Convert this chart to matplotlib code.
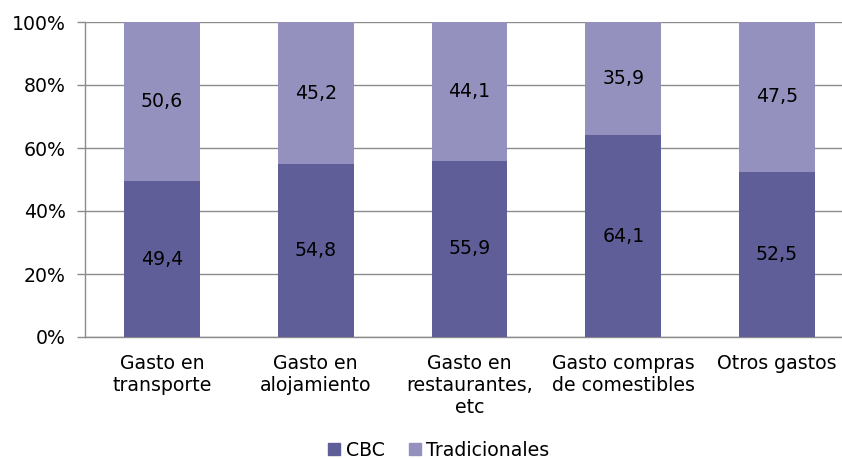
import matplotlib
matplotlib.use("Agg")
import matplotlib.pyplot as plt
from matplotlib.lines import Line2D

categories = ["Gasto en\ntransporte", "Gasto en\nalojamiento", "Gasto en\nrestaurantes,\netc",
              "Gasto compras\nde comestibles", "Otros gastos"]
cbc = [49.4, 54.8, 55.9, 64.1, 52.5]
tradicionales = [50.6, 45.2, 44.1, 35.9, 47.5]
yticks = [0, 20, 40, 60, 80, 100]
ytick_labels = ["0%", "20%", "40%", "60%", "80%", "100%"]
series_names = ["CBC", "Tradicionales"]

c_dark = "#5F5E99"
c_light = "#9591BE"
grid_c = "#8C8C8C"

plt.rcParams['font.family'] = ['DejaVu Sans']
fig = plt.figure(figsize=(8.42, 4.59), dpi=100)
W, H = 842, 459
left, right, top, bottom = 85, 854, 22, 337
ax = fig.add_axes([left / W, 1 - bottom / H, (right - left) / W, (bottom - top) / H])

x = list(range(len(categories)))
ax.bar(x, cbc, width=0.494, color=c_dark, zorder=3)
ax.bar(x, tradicionales, width=0.494, bottom=cbc, color=c_light, zorder=3)

fs = 13.6
for i in x:
    ax.text(i, cbc[i] / 2, f"{cbc[i]:.1f}".replace(".", ","), ha="center", va="center",
            fontsize=fs, color="black", zorder=4)
    ax.text(i, cbc[i] + tradicionales[i] / 2, f"{tradicionales[i]:.1f}".replace(".", ","),
            ha="center", va="center", fontsize=fs, color="black", zorder=4)

ax.set_xlim(-0.5, 4.5)
ax.set_ylim(0, 100)
ax.set_yticks(yticks)
ax.set_yticklabels(ytick_labels, fontsize=fs)
ax.set_xticks(x)
ax.set_xticklabels(categories, fontsize=fs, linespacing=1.2)
ax.tick_params(axis="x", length=0, pad=12)
ax.tick_params(axis="y", length=6, width=1, color=grid_c, pad=8)
ax.yaxis.grid(True, color=grid_c, linewidth=1)
ax.set_axisbelow(True)
for s in ["top", "right"]:
    ax.spines[s].set_visible(False)
ax.spines["left"].set_color(grid_c)
ax.spines["bottom"].set_color(grid_c)
ax.spines["left"].set_linewidth(1)
ax.spines["bottom"].set_linewidth(1)

handles = [Line2D([], [], marker="s", linestyle="none", markersize=8, color=c)
           for c in (c_dark, c_light)]
fig.legend(handles, series_names, loc="center", bbox_to_anchor=(438 / W, 1 - 450 / H),
           ncol=2, frameon=False, fontsize=fs, handletextpad=0.2, columnspacing=1.2,
           handlelength=0.8)

fig.savefig("out.png", dpi=100)
